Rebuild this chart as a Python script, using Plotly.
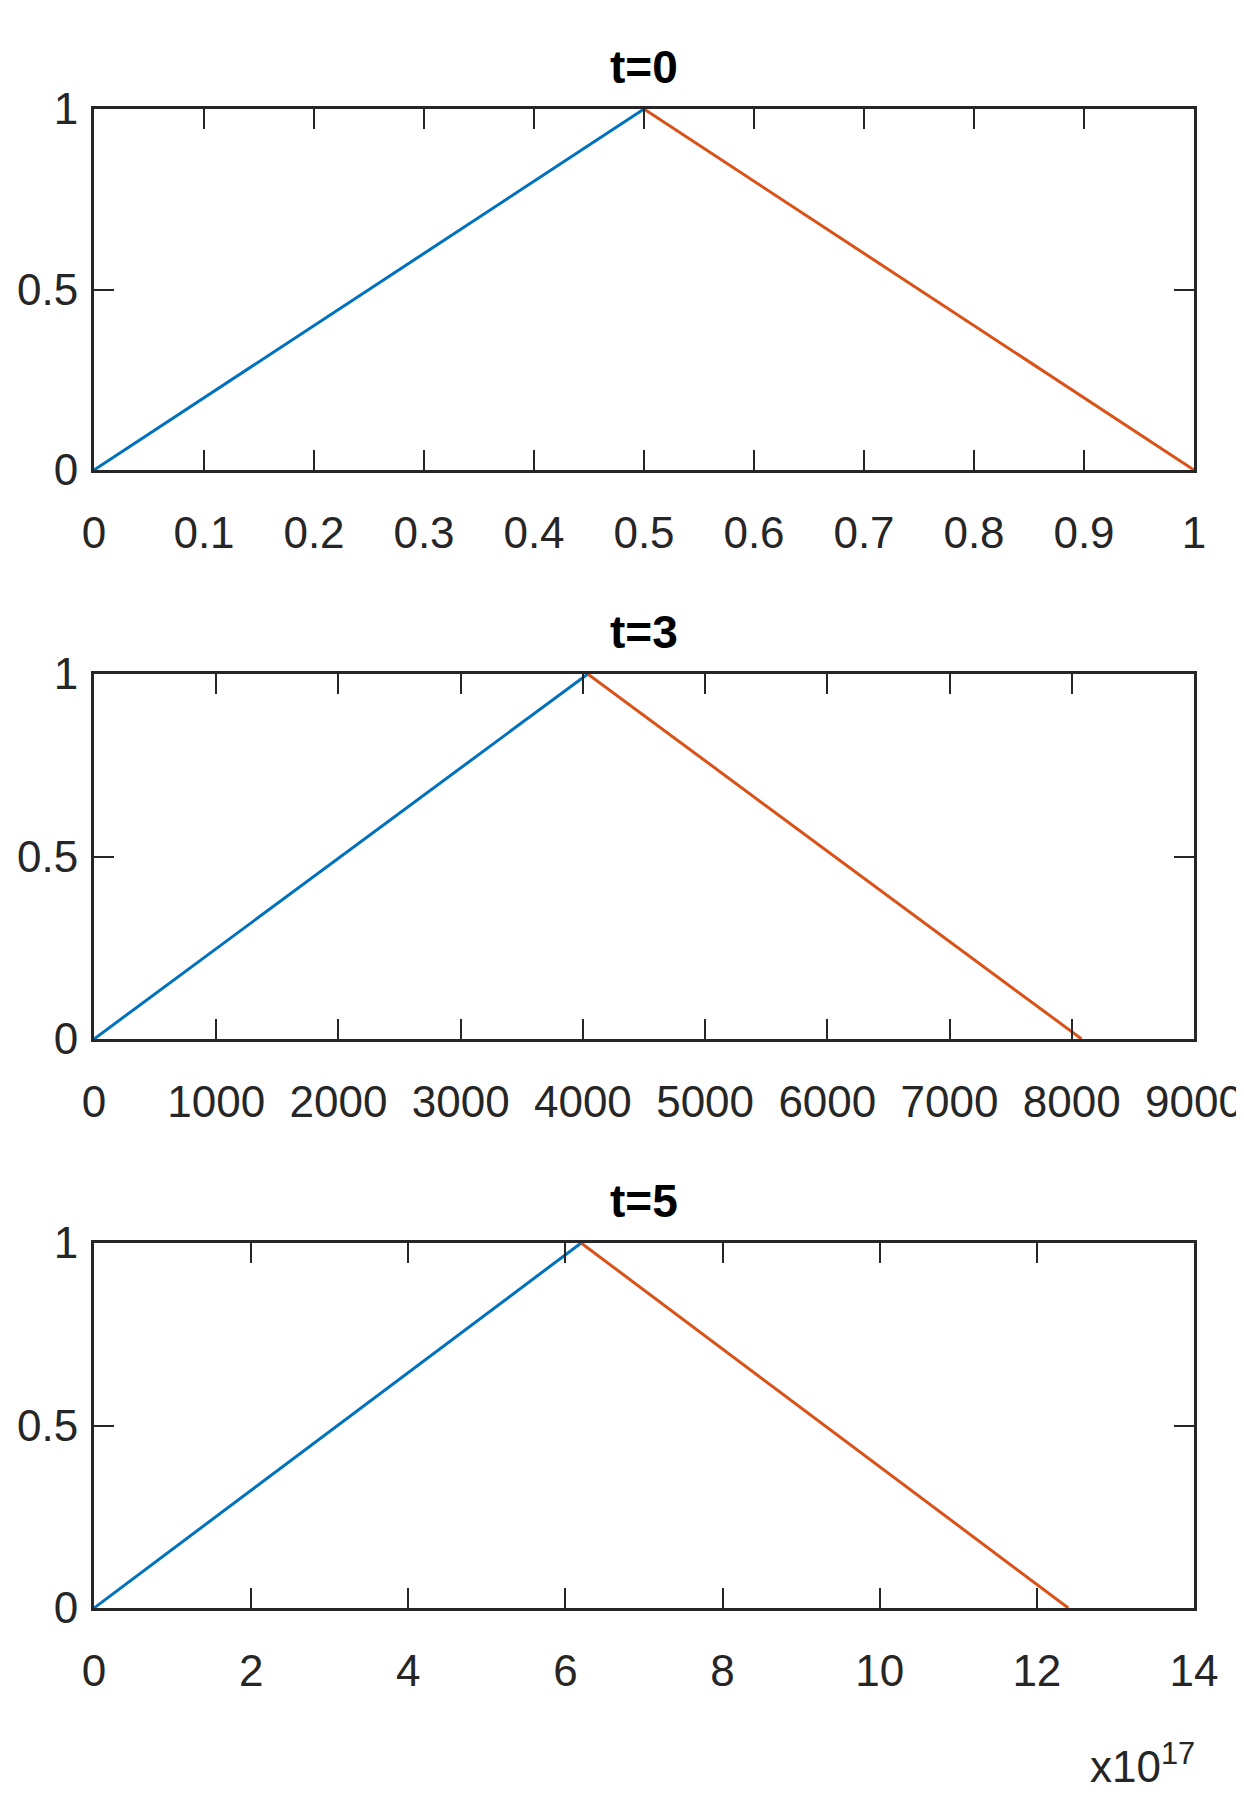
import plotly.graph_objects as go

titles = ["t=0", "t=3", "t=5"]
x_rise = [[0, 0.5], [0, 4040], [0, 6.2e17]]
x_fall = [[0.5, 1.0], [4040, 8080], [6.2e17, 12.4e17]]
y_rise = [0, 1]
y_fall = [1, 0]
x_ranges = [[0, 1], [0, 9000], [0, 14e17]]
x_ticks = [[0, 0.1, 0.2, 0.3, 0.4, 0.5, 0.6, 0.7, 0.8, 0.9, 1],
           [0, 1000, 2000, 3000, 4000, 5000, 6000, 7000, 8000, 9000],
           [i * 1e17 for i in range(0, 15, 2)]]
x_ticktext = [["0", "0.1", "0.2", "0.3", "0.4", "0.5", "0.6", "0.7", "0.8", "0.9", "1"],
              ["0", "1000", "2000", "3000", "4000", "5000", "6000", "7000", "8000", "9000"],
              ["0", "2", "4", "6", "8", "10", "12", "14"]]

W, H = 1244, 1799
FONT = "Liberation Sans Narrow, Arial Narrow, Liberation Sans, sans-serif"
doms = [(1 - 462 / H, 1 - 101 / H), (1 - 1031 / H, 1 - 666 / H), (1 - 1600 / H, 1 - 1235 / H)]
xdom = (86 / W, 1186 / W)

fig = go.Figure()
for i in range(3):
    n = "" if i == 0 else str(i + 1)
    fig.add_trace(go.Scatter(x=x_rise[i], y=y_rise, mode="lines", line=dict(color="#0072BD", width=3),
                             xaxis="x" + n, yaxis="y" + n, showlegend=False))
    fig.add_trace(go.Scatter(x=x_fall[i], y=y_fall, mode="lines", line=dict(color="#D95319", width=3),
                             xaxis="x" + n, yaxis="y" + n, showlegend=False))
    ax = dict(domain=list(xdom), range=x_ranges[i], tickvals=x_ticks[i], ticktext=x_ticktext[i],
              ticks="inside", ticklen=20, tickwidth=2, tickcolor="#262626", showline=True, linecolor="#262626",
              linewidth=3, mirror="ticks", showgrid=False, zeroline=False, anchor="y" + n, automargin=False,
              ticklabelstandoff=22,
              tickfont=dict(family=FONT, size=44, color="#262626"))
    ay = dict(domain=list(doms[i]), range=[0, 1], tickvals=[0, 0.5, 1], ticktext=["0", "0.5", "1"],
              ticks="inside", ticklen=20, tickwidth=2, tickcolor="#262626", showline=True, linecolor="#262626",
              linewidth=3, mirror="ticks", showgrid=False, zeroline=False, anchor="x" + n, automargin=False,
              ticklabelstandoff=4,
              tickfont=dict(family=FONT, size=44, color="#262626"))
    fig.layout["xaxis" + n] = ax
    fig.layout["yaxis" + n] = ay
    fig.add_annotation(text="<b>" + titles[i] + "</b>", x=(xdom[0] + xdom[1]) / 2, y=doms[i][1] + 0.008,
                       xref="paper", yref="paper", xanchor="center", yanchor="bottom", showarrow=False,
                       font=dict(family=FONT, size=46, color="black"))

fig.add_annotation(text="x10<sup>17</sup>", x=1189 / W, y=1 - 1785 / H, xref="paper", yref="paper",
                   xanchor="right", yanchor="bottom", showarrow=False,
                   font=dict(family=FONT, size=44, color="#262626"))

fig.update_layout(width=W, height=H, margin=dict(l=0, r=0, t=0, b=0),
                  paper_bgcolor="white", plot_bgcolor="white")
fig.write_html("out.html")
